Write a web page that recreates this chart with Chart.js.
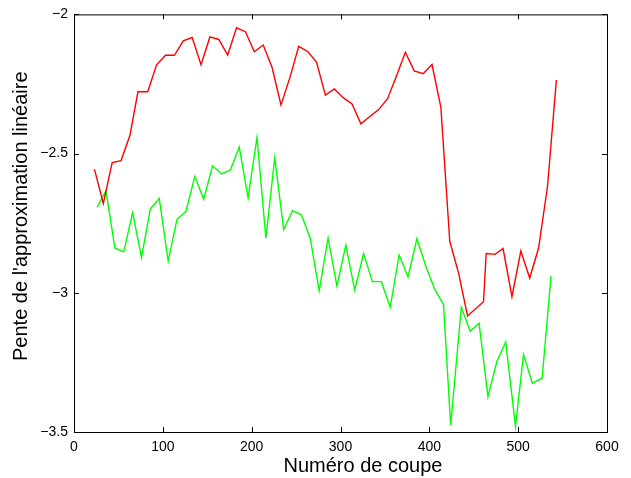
<!DOCTYPE html>
<html>
<head>
<meta charset="utf-8">
<script src="https://cdn.jsdelivr.net/npm/chart.js@4.4.0/dist/chart.umd.min.js"></script>
<style>
  html, body { margin: 0; padding: 0; background: #fff; }
  #wrap { width: 631px; height: 478px; }
</style>
</head>
<body>
<div id="wrap"><canvas id="slopeChart" width="631" height="478"></canvas></div>
<script>
// values
var redX = [23, 33, 43, 53, 63, 72, 83, 93, 103, 113, 123, 133, 143, 153, 163, 173, 183, 193, 203, 213,
            223, 233, 243, 253, 263, 273, 283, 293, 303, 313, 323, 333, 343, 353, 363, 373, 383, 393, 403, 413,
            423, 433, 443, 461, 464, 474, 483, 493, 503, 513, 523, 533, 543];
var redY = [-2.556, -2.679, -2.532, -2.525, -2.434, -2.278, -2.278, -2.181, -2.147, -2.147,
            -2.095, -2.083, -2.181, -2.081, -2.090, -2.146, -2.048, -2.062, -2.134, -2.110,
            -2.191, -2.325, -2.227, -2.115, -2.133, -2.171, -2.290, -2.268, -2.299, -2.322,
            -2.393, -2.367, -2.342, -2.303, -2.221, -2.136, -2.203, -2.213, -2.180, -2.334,
            -2.815, -2.930, -3.083, -3.032, -2.859, -2.862, -2.841, -3.014, -2.850, -2.947,
            -2.839, -2.619, -2.236];

var greenX = [26, 36, 46, 56, 66, 76, 86, 96, 106, 116, 126, 136, 146, 156, 166, 176, 186, 196, 206, 216,
              226, 236, 246, 256, 266, 276, 286, 296, 306, 316, 326, 336, 346, 356, 366, 376, 386, 396, 406, 416,
              424, 436, 446, 456, 466, 476, 486, 497, 506, 516, 527, 537];
var greenY = [-2.692, -2.634, -2.839, -2.853, -2.712, -2.873, -2.698, -2.661, -2.886, -2.735,
              -2.708, -2.582, -2.664, -2.544, -2.573, -2.559, -2.477, -2.658, -2.442, -2.803,
              -2.515, -2.773, -2.705, -2.720, -2.805, -2.993, -2.803, -2.976, -2.829, -2.990,
              -2.859, -2.960, -2.960, -3.052, -2.864, -2.943, -2.805, -2.904, -2.987, -3.043,
              -3.476, -3.052, -3.138, -3.109, -3.373, -3.247, -3.177, -3.480, -3.222, -3.325,
              -3.306, -2.939];

var xTicks = [0, 100, 200, 300, 400, 500, 600];
var yTicks = [-3.5, -3, -2.5, -2];
var xTitle = 'Numéro de coupe';
var yTitle = "Pente de l'approximation linéaire";

var fontFamily = '"Liberation Sans", Arial, Helvetica, sans-serif';

function toPoints(xs, ys)
{
    var pts = [];
    for (let i = 0; i < xs.length; i++)
    {
        pts.push({x: xs[i], y: ys[i]});
    }
    return pts;
}

function minusSign(v)
{
    return String(v).replace('-', '\u2212');
}

// box around the axes, inward ticks on all four sides, and the two axis titles
var framePlugin = {
    id: 'frame',
    afterDraw: function(chart) {
        var ctx = chart.ctx;
        var a = chart.chartArea;
        var xs = chart.scales.x;
        var ys = chart.scales.y;
        var len = 5;
        ctx.save();
        ctx.strokeStyle = '#000';
        ctx.lineWidth = 1;
        ctx.strokeRect(a.left + 0.5, a.top + 0.5, a.right - a.left, a.bottom - a.top);
        ctx.beginPath();
        xTicks.forEach(function(t) {
            var px = Math.round(xs.getPixelForValue(t)) + 0.5;
            ctx.moveTo(px, a.bottom);
            ctx.lineTo(px, a.bottom - len);
            ctx.moveTo(px, a.top);
            ctx.lineTo(px, a.top + len);
        });
        yTicks.forEach(function(t) {
            var py = Math.round(ys.getPixelForValue(t)) + 0.5;
            ctx.moveTo(a.left, py);
            ctx.lineTo(a.left + len, py);
            ctx.moveTo(a.right, py);
            ctx.lineTo(a.right - len, py);
        });
        ctx.stroke();

        ctx.fillStyle = '#000';
        ctx.font = '20px ' + fontFamily;
        ctx.textAlign = 'center';
        ctx.textBaseline = 'middle';
        ctx.fillText(xTitle, 363, 466);
        ctx.translate(21, (a.top + a.bottom) / 2 - 7);
        ctx.rotate(-Math.PI / 2);
        ctx.fillText(yTitle, 0, 0);
        ctx.restore();
    }
};

var ctx = document.getElementById('slopeChart').getContext('2d');
var myChart = new Chart(ctx, {
    type: 'line',
    data: {
        datasets: [{
            label: 'rouge',
            data: toPoints(redX, redY),
            borderColor: '#ff0000',
            borderWidth: 1.4,
            pointRadius: 0,
            tension: 0,
            fill: false
        }, {
            label: 'vert',
            data: toPoints(greenX, greenY),
            borderColor: '#00ff00',
            borderWidth: 1.4,
            pointRadius: 0,
            tension: 0,
            fill: false
        }]
    },
    options: {
        responsive: false,
        animation: false,
        layout: {
            padding: {left: 0, right: 24, top: 11, bottom: 0}
        },
        plugins: {
            legend: {display: false},
            tooltip: {enabled: false}
        },
        scales: {
            x: {
                type: 'linear',
                min: 0,
                max: 600,
                afterBuildTicks: function(scale) {
                    scale.ticks = xTicks.map(function(v) { return {value: v}; });
                },
                grid: {display: false, drawTicks: false},
                border: {display: false},
                ticks: {
                    padding: 7,
                    color: '#000',
                    maxRotation: 0,
                    autoSkip: false,
                    font: {family: fontFamily, size: 14}
                },
                afterFit: function(scale) { scale.height = 46; }
            },
            y: {
                type: 'linear',
                min: -3.5,
                max: -2,
                afterBuildTicks: function(scale) {
                    scale.ticks = yTicks.map(function(v) { return {value: v}; });
                },
                grid: {display: false, drawTicks: false},
                border: {display: false},
                ticks: {
                    padding: 6,
                    color: '#000',
                    autoSkip: false,
                    font: {family: fontFamily, size: 14},
                    callback: function(v) { return minusSign(v); }
                },
                afterFit: function(scale) { scale.width = 74; }
            }
        }
    },
    plugins: [framePlugin]
});
</script>
</body>
</html>
